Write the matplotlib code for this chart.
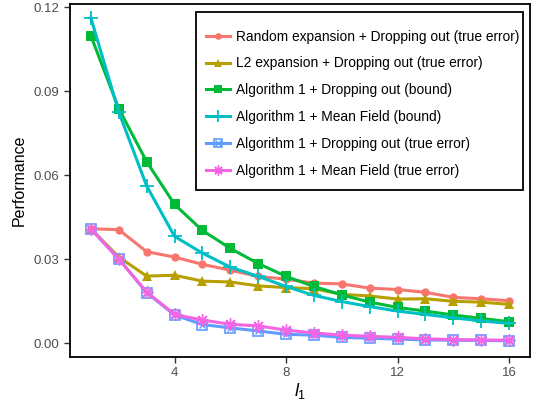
import matplotlib
matplotlib.use("Agg")
import matplotlib.pyplot as plt
from matplotlib.lines import Line2D
from matplotlib.patches import Rectangle
from matplotlib.legend_handler import HandlerTuple

plt.rcParams['font.family'] = ['Liberation Sans', 'DejaVu Sans']
plt.rcParams['mathtext.fontset'] = 'custom'
plt.rcParams['mathtext.rm'] = 'Liberation Sans'
plt.rcParams['mathtext.it'] = 'Liberation Sans:italic'

x = list(range(1, 17))
random_dropout = [0.0409, 0.0406, 0.0327, 0.0308, 0.0282, 0.0261, 0.0239, 0.0229,
                  0.0215, 0.0212, 0.0197, 0.0192, 0.0182, 0.0164, 0.0159, 0.0152]
l2_dropout = [0.0409, 0.0308, 0.0240, 0.0243, 0.0222, 0.0219, 0.0205, 0.0199,
              0.0195, 0.0175, 0.0169, 0.0158, 0.0159, 0.0150, 0.0147, 0.0139]
alg1_dropout_bound = [0.1098, 0.0838, 0.0649, 0.0496, 0.0403, 0.0339, 0.0285, 0.0239,
                      0.0203, 0.0173, 0.0147, 0.0128, 0.0115, 0.0101, 0.0089, 0.0077]
alg1_mf_bound = [0.1162, 0.0826, 0.0562, 0.0382, 0.0322, 0.0272, 0.0239, 0.0203,
                 0.0171, 0.0149, 0.0131, 0.0115, 0.0103, 0.0091, 0.0080, 0.0071]
alg1_dropout_true = [0.0409, 0.0302, 0.0181, 0.0101, 0.0067, 0.0055, 0.0044, 0.0032,
                     0.0029, 0.0021, 0.0018, 0.0015, 0.0012, 0.0011, 0.0010, 0.0009]
alg1_mf_true = [0.0409, 0.0300, 0.0183, 0.0103, 0.0083, 0.0068, 0.0062, 0.0047,
                0.0037, 0.0029, 0.0025, 0.0021, 0.0016, 0.0013, 0.0012, 0.0011]

labels = ["Random expansion + Dropping out (true error)",
          "L2 expansion + Dropping out (true error)",
          "Algorithm 1 + Dropping out (bound)",
          "Algorithm 1 + Mean Field (bound)",
          "Algorithm 1 + Dropping out (true error)",
          "Algorithm 1 + Mean Field (true error)"]
colors = ["#F8766D", "#B79F00", "#00BA38", "#00BFC4", "#619CFF", "#F564E3"]
yticks = [0.00, 0.03, 0.06, 0.09, 0.12]
xticks = [4, 8, 12, 16]

W, H = 537, 407
fig = plt.figure(figsize=(W / 100, H / 100), dpi=100)
ax = fig.add_axes([70 / W, (H - 357) / H, 460 / W, 353 / H])

lw = 2.2
handles = []
h, = ax.plot(x, random_dropout, color=colors[0], lw=lw, marker='o', ms=6, mew=0)
handles.append(h)
h, = ax.plot(x, l2_dropout, color=colors[1], lw=lw, marker='^', ms=7, mew=0)
handles.append(h)
h, = ax.plot(x, alg1_dropout_bound, color=colors[2], lw=lw, marker='s', ms=6.5, mew=0)
handles.append(h)
h, = ax.plot(x, alg1_mf_bound, color=colors[3], lw=lw, marker='+', ms=10, mew=1.3)
handles.append(h)
h1, = ax.plot(x, alg1_dropout_true, color=colors[4], lw=lw, marker='s', ms=6.5,
              mfc='none', mew=1.2)
h2, = ax.plot(x, alg1_dropout_true, color=colors[4], lw=0, marker='x', ms=5, mew=1.0)
handles.append((h1, h2))
h, = ax.plot(x, alg1_mf_true, color=colors[5], lw=lw, marker=(8, 2, 0), ms=9, mew=1.0)
handles.append(h)

ax.set_xlim(0.25, 16.75)
ax.set_ylim(-0.0049, 0.1212)
ax.set_xticks(xticks)
ax.set_xticklabels([str(t) for t in xticks])
ax.set_yticks(yticks)
ax.set_yticklabels([f"{t:.2f}" for t in yticks])
ax.tick_params(axis='both', colors='#333333', labelcolor='#4D4D4D', labelsize=9.5, length=4, width=1)
for s in ax.spines.values():
    s.set_linewidth(1.3)
    s.set_color('black')

ax.set_ylabel("Performance", fontsize=11.5, color='black', labelpad=5)
ax.set_xlabel(r"$l_1$", fontsize=13, color='black', labelpad=1)

# legend frame (ggplot-like box)
frame = Rectangle((196 / W, 1 - 190 / H), (523 - 196) / W, (190 - 12) / H,
                  transform=fig.transFigure, facecolor='white', edgecolor='black',
                  linewidth=1.3, zorder=5)
fig.add_artist(frame)

leg = fig.legend(handles, labels, loc='upper left',
                 bbox_to_anchor=(206 / W, 1 - 29.5 / H),
                 fontsize=9.95, frameon=False, markerscale=0.8,
                 handlelength=1.75, handletextpad=0.45, labelspacing=0.93,
                 borderpad=0, borderaxespad=0,
                 handler_map={tuple: HandlerTuple(ndivide=1)})
leg.set_zorder(6)

fig.savefig("out.png", dpi=100)
